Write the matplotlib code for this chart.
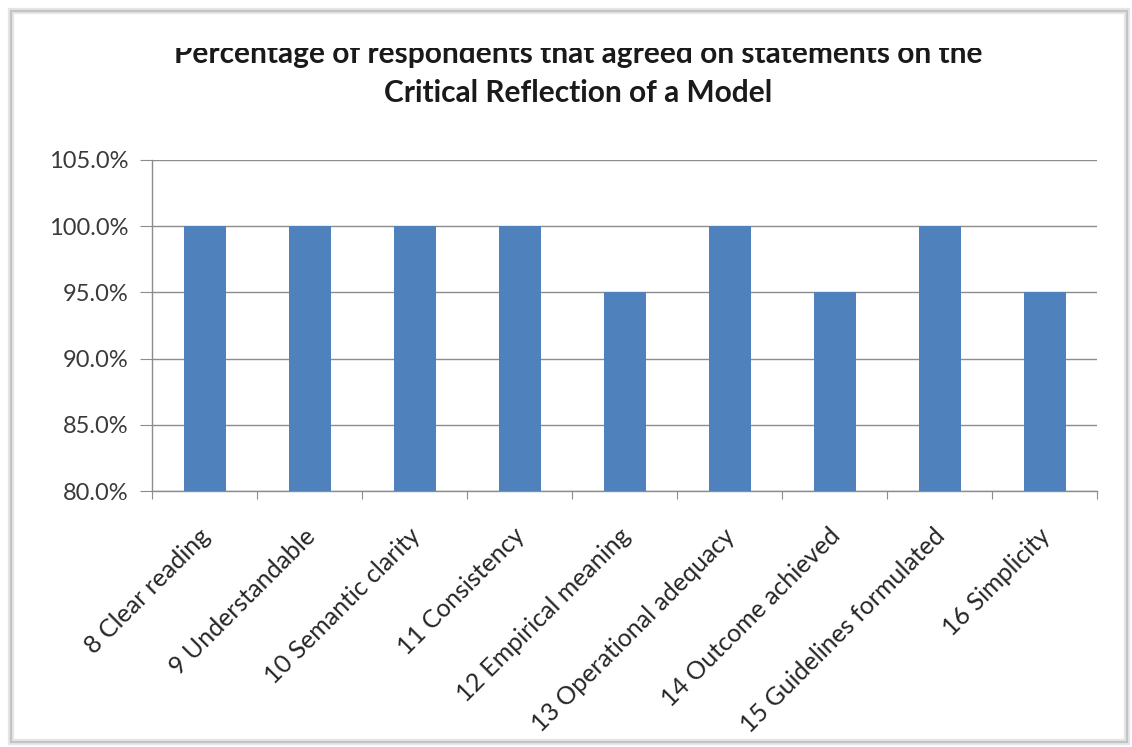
import matplotlib.pyplot as plt
from matplotlib.patches import Rectangle
from matplotlib.transforms import Bbox, TransformedBbox
from matplotlib.ticker import FuncFormatter

# statements and share of respondents agreeing
statements = ['8 Clear reading', '9 Understandable', '10 Semantic clarity',
              '11 Consistency', '12 Empirical meaning', '13 Operational adequacy',
              '14 Outcome achieved', '15 Guidelines formulated', '16 Simplicity']
agreed = [1.00, 1.00, 1.00, 1.00, 0.95, 1.00, 0.95, 1.00, 0.95]
y_ticks = [0.80, 0.85, 0.90, 0.95, 1.00, 1.05]

W, H = 1132, 747
plt.rcParams['font.family'] = ['Lato', 'DejaVu Sans']

fig = plt.figure(figsize=(W / 100, H / 100), dpi=100)
fig.patch.set_facecolor('white')

# chart frame with a soft edge
fig.patches.append(Rectangle((11 / W, 1 - 742 / H), 1116 / W, 731 / H,
                             transform=fig.transFigure, fill=False,
                             edgecolor='#e6e6e6', linewidth=4.5, zorder=0))
fig.patches.append(Rectangle((11 / W, 1 - 742 / H), 1116 / W, 731 / H,
                             transform=fig.transFigure, fill=False,
                             edgecolor='#c4c4c4', linewidth=1.6, zorder=0))

ax = fig.add_axes([152 / W, 1 - 491 / H, 945 / W, 331 / H])
x = list(range(len(statements)))
ax.bar(x, agreed, width=0.4, color='#4F81BD', zorder=3)

ax.set_ylim(0.80, 1.05)
ax.set_xlim(-0.5, len(statements) - 0.5)
ax.set_yticks(y_ticks)
ax.yaxis.set_major_formatter(FuncFormatter(lambda v, p: f'{v * 100:.1f}%'))
ax.grid(axis='y', color='#8c8c8c', linewidth=1.0, zorder=0)
ax.set_axisbelow(True)

for s in ['top', 'right']:
    ax.spines[s].set_visible(False)
for s in ['left', 'bottom']:
    ax.spines[s].set_color('#8c8c8c')
    ax.spines[s].set_linewidth(1.0)

# category separators on the x axis
ax.set_xticks([i - 0.5 for i in range(len(statements) + 1)])
ax.set_xticklabels([])
ax.tick_params(axis='x', length=6, color='#8c8c8c', direction='out')
ax.tick_params(axis='y', length=9, color='#8c8c8c', labelsize=17,
               labelcolor='#3a3a3a', pad=8)

clip = TransformedBbox(Bbox([[0, 5 / H], [1, 1 - 48 / H]]), fig.transFigure)
for i, name in enumerate(statements):
    t = ax.text(i - 0.06, 0.775, name, rotation=45, ha='right', va='top',
                rotation_mode='anchor', fontsize=18, color='#262626',
                clip_on=False)
    t.set_clip_box(clip)
    t.set_clip_on(True)

# two-line title, top line partly cut away
t1 = fig.text(578 / W, 1 - 63 / H,
              'Percentage of respondents that agreed on statements on the',
              ha='center', va='baseline', fontsize=21.5, fontweight='bold',
              color='#1a1a1a')
t1.set_clip_box(clip)
t1.set_clip_on(True)
fig.text(578 / W, 1 - 102 / H, 'Critical Reflection of a Model',
         ha='center', va='baseline', fontsize=21.5, fontweight='bold',
         color='#1a1a1a')

fig.savefig('out.png', dpi=100, facecolor='white')
